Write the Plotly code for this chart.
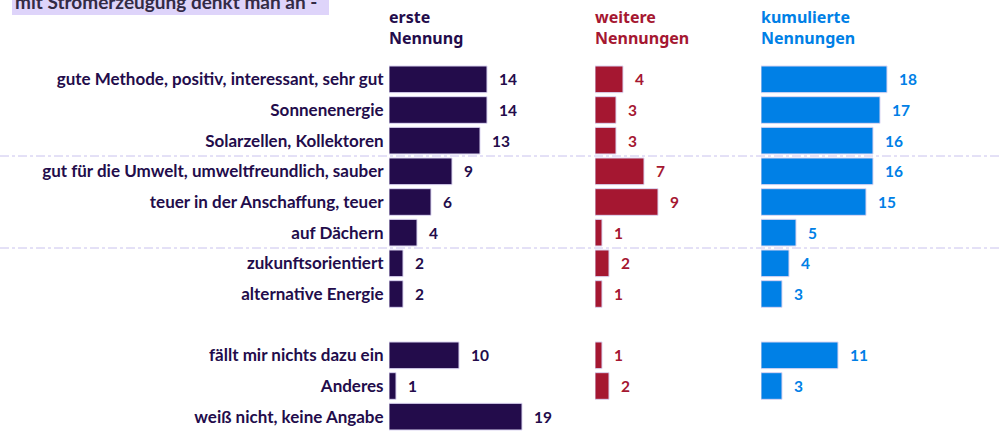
import plotly.graph_objects as go

categories = ["gute Methode, positiv, interessant, sehr gut", "Sonnenenergie",
              "Solarzellen, Kollektoren", "gut für die Umwelt, umweltfreundlich, sauber",
              "teuer in der Anschaffung, teuer", "auf Dächern", "zukunftsorientiert",
              "alternative Energie", " ", "fällt mir nichts dazu ein", "Anderes",
              "weiß nicht, keine Angabe"]
erste = [14, 14, 13, 9, 6, 4, 2, 2, None, 10, 1, 19]
weitere = [4, 3, 3, 7, 9, 1, 2, 1, None, 1, 2, None]
kumuliert = [18, 17, 16, 16, 15, 5, 4, 3, None, 11, 3, None]
headers = ["erste<br>Nennung", "weitere<br>Nennungen", "kumulierte<br>Nennungen"]
title = "mit Stromerzeugung denkt man an -"

W, H = 1002, 434
C_DARK, C_RED, C_BLUE = "#230c4b", "#a51731", "#0080e6"
FONT = "Lato"
HFONT = "Noto Sans"

def px(x):
    return x / W

def py(y):
    return 1 - y / H

fig = go.Figure()
series = [(erste, C_DARK, "x", 389), (weitere, C_RED, "x2", 595), (kumuliert, C_BLUE, "x3", 761)]
annotations = []
for vals, col, xa, _ in series:
    fig.add_trace(go.Bar(x=vals, y=categories, orientation="h", xaxis=xa, yaxis="y",
                         marker=dict(color=col, line=dict(color="#dcd6f2", width=1)),
                         width=0.87, showlegend=False, hoverinfo="x+y"))
    for c, v in zip(categories, vals):
        if v is not None:
            annotations.append(dict(x=v, y=c, xref=xa, yref="y", text=f"<b>{v}</b>",
                                    showarrow=False, xanchor="left", xshift=10,
                                    font=dict(family=FONT, size=15.5, color=col)))

scale = 7.0
span = 30
layout_axes = {}
for i, (_, col, xa, start) in enumerate(series):
    name = "xaxis" if i == 0 else f"xaxis{i+1}"
    layout_axes[name] = dict(domain=[px(start), px(start + scale * span)], range=[0, span],
                             visible=False, anchor="y", fixedrange=True)
    annotations.append(dict(x=px(start - 2), y=py(4), xref="paper", yref="paper",
                            text=f"<b>{headers[i]}</b>", showarrow=False, xanchor="left",
                            yanchor="top", align="left",
                            font=dict(family=HFONT, size=16, color=col)))

annotations.append(dict(x=px(13), y=py(15), xref="paper", yref="paper", text=f"<b>{title}</b>",
                        showarrow=False, xanchor="left", yanchor="bottom",
                        font=dict(family=FONT, size=19, color="#332b45")))

shapes = [dict(type="rect", xref="paper", yref="paper", x0=px(12), x1=px(329), y0=py(15), y1=1,
               fillcolor="#ded4fa", line=dict(width=0), layer="below")]
for yb in [2.5, 5.5]:
    shapes.append(dict(type="line", xref="paper", yref="y", x0=0, x1=1, y0=yb, y1=yb,
                       line=dict(color="#c9c2ee", width=1, dash="dashdot"), layer="below"))

fig.update_layout(
    width=W, height=H, margin=dict(l=0, r=0, t=0, b=0),
    paper_bgcolor="white", plot_bgcolor="rgba(0,0,0,0)",
    bargap=0.13,
    yaxis=dict(domain=[2 / H, 1 - 64 / H], type="category", categoryorder="array",
               categoryarray=categories, range=[11.5, -0.5], showgrid=False, zeroline=False,
               showline=False, ticks="outside", ticklen=1, tickcolor="rgba(0,0,0,0)",
               tickfont=dict(family=FONT, size=17, color=C_DARK), anchor="x", fixedrange=True),
    annotations=annotations, shapes=shapes,
    **layout_axes,
)
fig.update_yaxes(tickvals=categories, ticktext=[f"<b>{c}</b>" if c.strip() else "" for c in categories])
fig.write_html("out.html", config={"displayModeBar": False},
               post_script="document.body.style.margin='0';")
